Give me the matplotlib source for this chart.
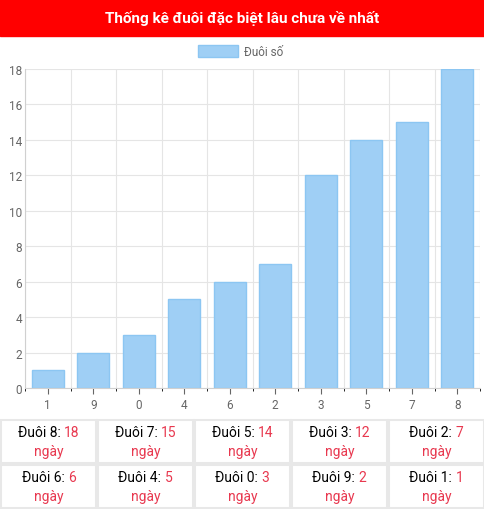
import matplotlib.pyplot as plt
from matplotlib.patches import Rectangle

plt.rcParams['font.family'] = ['Roboto', 'DejaVu Sans']

digits = ['1', '9', '0', '4', '6', '2', '3', '5', '7', '8']
days = [1, 2, 3, 5, 6, 7, 12, 14, 15, 18]
table_rows = [
    [('8', 18), ('7', 15), ('5', 14), ('3', 12), ('2', 7)],
    [('6', 6), ('4', 5), ('0', 3), ('9', 2), ('1', 1)],
]

W, H = 485, 510
fig = plt.figure(figsize=(W / 100, H / 100), dpi=100)

def px(x, y):
    return x / W, 1 - y / H

# header
fig.patches.append(Rectangle(px(0, 37), 1, 37 / H, transform=fig.transFigure,
                             color='#ff0000', zorder=0))
fig.text(*px(W / 2, 19), 'Thống kê đuôi đặc biệt lâu chưa về nhất', color='white',
         fontsize=11, fontweight='bold', ha='center', va='center')

# legend
fig.patches.append(Rectangle(px(198, 58), 40 / W, 12 / H, transform=fig.transFigure,
                             facecolor='#9fcff5', edgecolor='#8cc6f2', lw=1))
fig.text(*px(244, 52), 'Đuôi số', color='#666666', fontsize=8.5, va='center')

ax = fig.add_axes([25 / W, 1 - 389 / H, 455 / W, 319 / H])
ax.bar(range(len(digits)), days, width=0.7, color='#9fcff5', edgecolor='#8cc6f2', lw=1)
ax.set_xlim(-0.5, len(digits) - 0.5)
ax.set_ylim(0, 18)
ax.set_yticks(range(0, 19, 2))
ax.set_xticks(range(len(digits)))
ax.set_xticklabels(digits)
ax.tick_params(colors='#666666', labelsize=8.5, length=4)
ax.tick_params(axis='y', pad=2, length=0)
ax.set_xticks([i + 0.5 for i in range(-1, len(digits))], minor=True)
ax.grid(True, which='minor', axis='x', color='#e5e5e5', lw=0.8)
ax.grid(True, which='major', axis='y', color='#e5e5e5', lw=0.8)
ax.set_axisbelow(True)
for s in ax.spines.values():
    s.set_color('#d0d0d0')
ax.spines['top'].set_visible(False)
ax.spines['right'].set_visible(False)

# table
renderer = fig.canvas.get_renderer()
cw = W / 5
for r, row in enumerate(table_rows):
    y0 = 420 + r * 45
    for c, (d, n) in enumerate(row):
        fig.patches.append(Rectangle(px(c * cw + 1, y0 + 44), (cw - 2) / W, 43 / H,
                                     transform=fig.transFigure, facecolor='white',
                                     edgecolor='#e8e8e8', lw=1.5))
        cx = c * cw + cw / 2
        lab = f'Đuôi {d}: '
        t1 = fig.text(0, 0, lab, fontsize=10)
        t2 = fig.text(0, 0, str(n), fontsize=10)
        w1 = t1.get_window_extent(renderer).width
        w2 = t2.get_window_extent(renderer).width
        x_left = cx - (w1 + w2) / 2
        t1.set_position(px(x_left, y0 + 13))
        t1.set_va('center')
        t2.set_position(px(x_left + w1, y0 + 13))
        t2.set_va('center')
        t2.set_color('#e8384f')
        fig.text(*px(cx, y0 + 32), 'ngày', fontsize=10, ha='center', va='center', color='#e8384f')

fig.savefig('out.png', dpi=100)
